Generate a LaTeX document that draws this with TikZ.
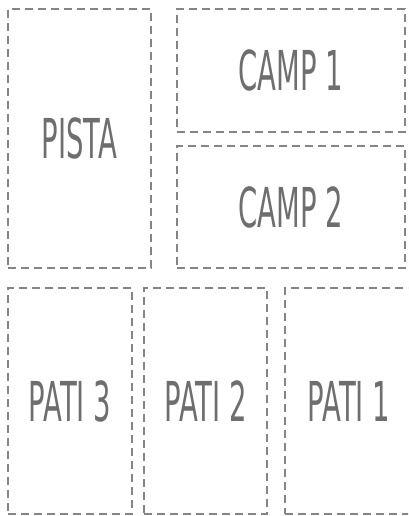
\documentclass[tikz,border=0pt]{standalone}
\usepackage{fontspec}
\newfontfamily\zonefont[FakeStretch=0.5]{DejaVu Sans}
\usetikzlibrary{positioning}
\definecolor{dashgray}{HTML}{858585}
\definecolor{textgray}{HTML}{6E6E6E}

\begin{document}
\begin{tikzpicture}[x=1pt,y=1pt,
  zone/.style={draw=dashgray, line width=1.6pt, dash pattern=on 8pt off 5pt,
    text=textgray, font=\zonefont\fontsize{55}{55}\selectfont, inner sep=0pt}]
\useasboundingbox (0,0) rectangle (408,516);
\clip (0,0) rectangle (408,516);
% upper half
\node[zone, minimum width=143pt, minimum height=259pt] (pista) at (79.5,377.5) {PISTA};
\node[zone, minimum width=228pt, minimum height=123pt] (camp1) at (291,445.5) {CAMP 1};
\node[zone, minimum width=228pt, minimum height=122pt] (camp2) at (291,309) {CAMP 2};
% lower half
\node[zone, minimum width=124pt, minimum height=226pt] (pati3) at (70,115) {PATI 3};
\node[zone, minimum width=123pt, minimum height=226pt] (pati2) at (205.5,115) {PATI 2};
\node[zone, minimum width=128pt, minimum height=226pt] (pati1) at (349,115) {PATI 1};
\end{tikzpicture}
\end{document}
